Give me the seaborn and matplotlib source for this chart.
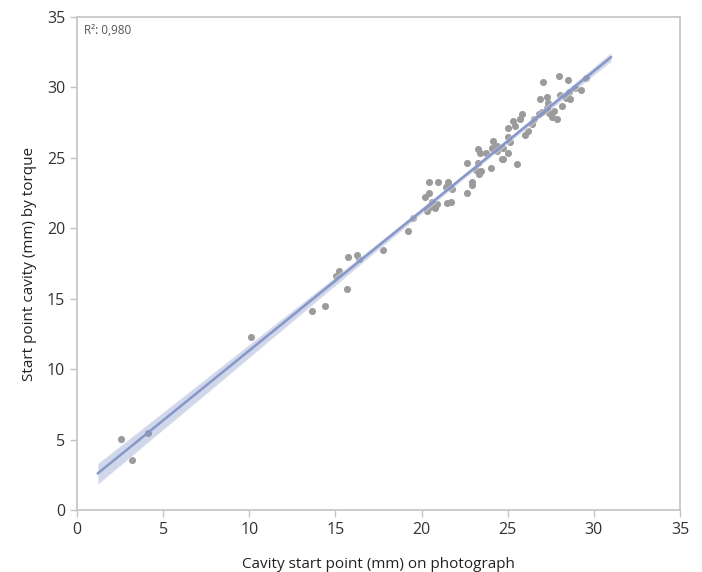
import numpy as np
import pandas as pd
import matplotlib
matplotlib.use("Agg")
import matplotlib.pyplot as plt
import seaborn as sns

# Points (photo vs couple)
photo = [2.55, 3.17, 4.14, 10.1, 13.62, 14.39, 15.03, 15.22, 15.65, 15.75, 16.27, 16.39,
         17.78, 19.23, 19.48, 20.2, 20.3, 20.45, 20.45, 20.5, 20.58, 20.78, 20.93, 21.42,
         21.46, 21.51, 21.71, 21.75, 22.62, 22.62, 22.9, 22.94, 23.16, 23.29, 23.29, 23.35,
         23.39, 23.45, 23.74, 24.07, 24.16, 24.36, 24.36, 24.65, 24.71, 24.71, 25.03, 25.03,
         25.03, 25.13, 25.32, 25.42, 25.55, 25.71, 25.81, 26.19, 26.39, 26.52, 26.83, 26.87,
         26.97, 27.03, 27.3, 27.3, 27.36, 27.41, 27.55, 27.88, 27.99, 28.03, 28.13, 28.38,
         28.51, 28.57, 28.61, 28.9, 29.23, 29.54, 20.9, 21.6, 24.0, 26.0, 27.7]
torque = [5.03, 3.56, 5.45, 12.3, 14.1, 14.5, 16.64, 17.0, 15.7, 17.97, 18.1, 17.83,
          18.49, 19.8, 20.75, 22.24, 21.2, 23.3, 22.5, 21.5, 21.86, 21.46, 23.3, 22.9,
          21.76, 23.3, 21.86, 22.76, 22.52, 24.66, 23.3, 23.07, 24.13, 24.66, 25.6, 23.83,
          25.37, 24.06, 25.32, 25.72, 26.2, 25.48, 25.84, 24.94, 24.89, 25.72, 25.32, 26.5,
          27.15, 26.13, 27.62, 27.26, 24.54, 27.74, 28.1, 26.9, 27.38, 27.74, 28.1, 29.16,
          28.26, 30.39, 29.35, 28.57, 28.92, 28.21, 27.93, 27.74, 30.82, 29.45, 28.69, 29.28,
          30.53, 29.64, 29.21, 29.99, 29.82, 30.7, 21.7, 23.0, 24.3, 26.6, 28.3]

ticks = [0, 5, 10, 15, 20, 25, 30, 35]
r2_text = "R²: 0,980"

df = pd.DataFrame({"photo": photo, "torque": torque})

sns.set_style("white")
plt.rcParams['font.family'] = ['Open Sans', 'DejaVu Sans']

fig = plt.figure(figsize=(7.02, 5.72), dpi=100)
ax = fig.add_axes([0.1097, 0.1084, 0.859, 0.8619])

# la droite s'etend un peu au dela des donnees
ax.set_xlim(1.2, 31)
sns.regplot(data=df, x="photo", y="torque", ax=ax, truncate=False,
            scatter_kws={"color": "#9b9b9b", "s": 26, "alpha": 1, "linewidths": 0},
            line_kws={"color": "#8797c8", "lw": 1.8})
for c in ax.collections[1:]:
    c.set_alpha(0.38)

ax.set_xlim(0, 35)
ax.set_ylim(0, 35)
ax.set_xticks(ticks)
ax.set_yticks(ticks)
for s in ax.spines.values():
    s.set_color("#c4c4c4")
    s.set_linewidth(1.2)
ax.tick_params(axis="both", direction="out", length=5, width=1, color="#c4c4c4",
               labelsize=11.5, labelcolor="#333333", bottom=True, left=True)
ax.set_xlabel("Cavity start point (mm) on photograph", fontsize=11, color="#222222", labelpad=14)
ax.set_ylabel("Start point cavity (mm) by torque", fontsize=11, color="#222222", labelpad=7)
ax.text(0.012, 0.985, r2_text, transform=ax.transAxes, ha="left", va="top",
        fontsize=8.5, color="#555555")

fig.savefig("out.png", dpi=100)
